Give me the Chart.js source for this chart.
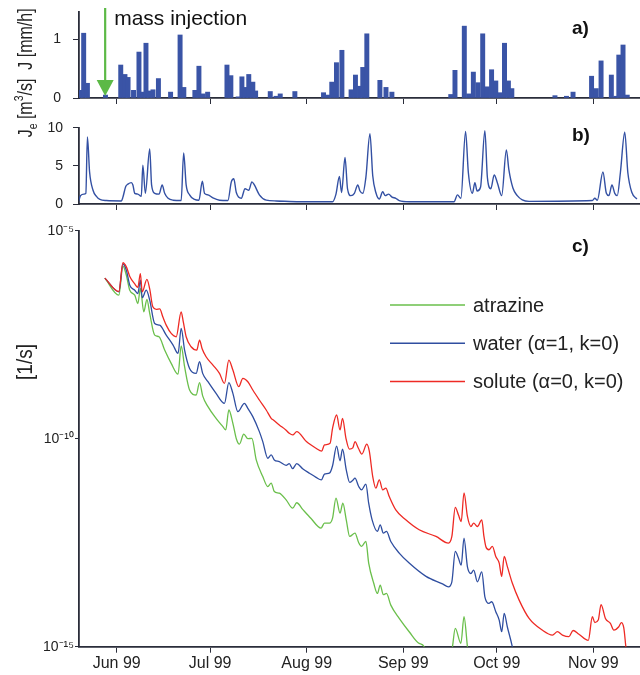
<!DOCTYPE html>
<html lang="en">
<head>
  <meta charset="UTF-8" />
  <title>Rainfall, discharge and travel time distributions 1999</title>
  <script src="https://cdn.jsdelivr.net/npm/chart.js"></script>
  <style>
    body { margin: 0; background: #fff; font-family: 'Liberation Sans', Arial, sans-serif; color: #222; }
    #wrap { position: relative; width: 640px; height: 675px; overflow: hidden; }
    canvas { position: absolute; left: 0; }
    .ytitle {
      position: absolute;
      white-space: nowrap;
      font-size: 16px;
      line-height: 1;
      transform: translate(-50%, -50%) rotate(-90deg) scale(1, 1.3);
    }
    .ytitle.big { font-size: 19px; transform: translate(-50%, -50%) rotate(-90deg) scale(1, 1.15); }
    .ytitle sub, .ytitle sup { font-size: 0.65em; line-height: 0; }
  </style>
</head>
<body>
<div id="wrap">
  <canvas id="rainChart" width="640" height="112" style="top:0"></canvas>
  <canvas id="flowChart" width="640" height="103" style="top:112px"></canvas>
  <canvas id="ttdChart" width="640" height="460" style="top:215px"></canvas>

  <div class="ytitle" style="left:25px; top:39px;">J [mm/h]</div>
  <div class="ytitle" style="left:25px; top:108px;">J<sub>e</sub> [m<sup>3</sup>/s]</div>
  <div class="ytitle big" style="left:25px; top:362px;">[1/s]</div>
</div>

<script>
  // ── data (day 0 = 1 June 1999) ─────────────────────────────
  const monthStartDay = [0, 30, 61, 92, 122, 153];
  const monthLabel = ['Jun 99', 'Jul 99', 'Aug 99', 'Sep 99', 'Oct 99', 'Nov 99'];
  const injectionDay = -3.7;

  // a) rainfall intensity (bar centres in days)
  const rainDay = [-11.75, -10.6, -9.4, -3.6,
    1.3, 2.65, 3.65, 5.4, 7.15, 8.3, 9.4, 10.45, 11.65, 13.4,
    17.3, 20.35, 21.55, 25.1, 26.4, 27.75, 29.2,
    35.4, 36.65, 39, 40.2, 41.3, 42.4, 43.7, 44.6,
    49.3, 51.15, 52.5, 57.2,
    66.4, 67.85, 69.05, 70.55, 72.3,
    75.25, 76.65, 78, 79, 80.3, 84.5, 86.45, 88.35,
    107.25, 108.6, 111.6, 113, 114.5, 116, 117.5, 119, 120.35, 121.7, 122.9, 124.5, 125.75, 126.85,
    140.7, 144.4, 146.5,
    152.45, 153.95, 155.5, 158.8, 160.25, 161.2, 162.55, 163.9];
  const rainMm = [0.13, 1.10, 0.25, 0.05,
    0.56, 0.40, 0.35, 0.13, 0.78, 0.10, 0.93, 0.12, 0.14, 0.33,
    0.10, 1.07, 0.18, 0.13, 0.54, 0.07, 0.10,
    0.56, 0.38, 0.02, 0.36, 0.18, 0.40, 0.27, 0.12,
    0.11, 0.03, 0.07, 0.11,
    0.09, 0.05, 0.27, 0.60, 0.81,
    0.14, 0.39, 0.20, 0.52, 1.09, 0.30, 0.18, 0.10,
    0.06, 0.47, 1.22, 0.07, 0.44, 0.26, 1.09, 0.19, 0.48, 0.29, 0.09, 0.93, 0.29, 0.16,
    0.04, 0.03, 0.10,
    0.37, 0.16, 0.63, 0.39, 0.03, 0.73, 0.90, 0.05];

  // b) discharge
  const flowDay = [-12.2, -11.6, -10.5, -9.9, -9.4, -8.7, -7.6, -6.5, -5.4, -3.3, 1.5, 2.0, 2.9, 3.6, 4.7, 5.2, 5.8,
    6.8, 7.9, 8.4, 9.2, 10.6, 11.2, 12.2, 13.6, 14.6, 15.4, 16.5, 18.1, 20.7, 21.5, 22.3, 23.4, 25, 26.4,
    27.5, 28.2, 29.3, 30.9, 33, 35.7, 36.8, 37.6, 38.4, 40, 41.2, 42.4, 43.4, 44.2, 45.8, 48, 51.2, 58.7,
    69.3, 70.4, 71.5, 72.2, 73.3, 74.1, 75.2, 76.3, 77.4, 78.1, 79, 80, 81.3, 82.2, 83.2, 84.3, 85.4, 86.2,
    87.3, 88.4, 89.6, 90.7, 93.9, 108.3, 109.4, 110.5, 112, 112.9, 114.2, 115, 115.7, 116.8, 118.2, 119,
    120.1, 121.2, 122.2, 123.6, 125.1, 125.9, 127.2, 128.6, 130.2, 132.4, 152.7, 153.5, 154.3, 156.1,
    157.2, 158, 159, 159.9, 160.7, 161.7, 163.1, 164.1, 165.4, 167];
  const flowM3s = [0.4, 1.1, 1.3, 1.4, 8.8, 4.2, 1.8, 1.0, 0.6, 0.45, 0.4, 0.9, 2.3, 2.6, 2.8, 2.5, 1.4,
    1.3, 1.0, 5.1, 1.4, 7.2, 2.5, 1.4, 1.3, 2.5, 1.4, 0.75, 0.5, 0.45, 6.7, 2.5, 1.2, 0.6, 0.5,
    3.0, 1.4, 1.2, 0.8, 0.5, 0.45, 2.9, 3.3, 1.5, 0.75, 2.0, 1.8, 2.9, 2.5, 1.2, 0.5, 0.4, 0.3,
    0.3, 1.3, 3.6, 1.5, 6.1, 2.0, 1.1, 1.4, 2.5, 1.7, 1.4, 3.5, 9.2, 3.7, 1.5, 0.65, 1.6, 1.1,
    1.3, 0.9, 0.75, 0.45, 0.3, 0.3, 1.2, 0.75, 9.5, 4.1, 1.4, 2.8, 1.7, 2.2, 9.6, 3.5,
    2.0, 3.8, 2.8, 1.1, 7.1, 4.5, 2.1, 1.1, 0.55, 0.35, 0.45, 0.75, 0.5, 4.2,
    1.4, 1.1, 2.5, 1.4, 1.1, 4.1, 9.4, 4.1, 1.5, 0.65];

  // c) travel time distributions, log10 of value in 1/s
  const soluteDay = [-3.8, 0.7, 2.0, 3.1, 4.2, 5.8, 6.8, 7.6, 8.2, 9.7, 10.6, 11.6, 12.7, 13.8, 14.8, 15.9, 17.5,
    19.1, 20.7, 21.4, 22.3, 23.9, 25.7, 26.6, 27.4, 28.7, 30.9, 33, 34.6, 36, 37.3, 39.2, 40.5, 42.1, 43.7,
    45.8, 48, 49.6, 50.3, 52.2, 54.3, 55.4, 56.5, 57.8, 60.9, 64, 65.8, 66.7, 68.5, 69.3, 70.6, 71.7, 72.5,
    73.6, 74.7, 75.8, 76.5, 77.6, 78.7, 80.3, 81.1, 82.2, 83.2, 84.3, 85.4, 86.4, 87.5, 89.6, 92.8, 97.1,
    102.5, 106.5, 107.6, 108.7, 109.7, 110.6, 111.5, 112.6, 113.7, 114.6, 115.8, 117.2, 117.9, 118.5, 119.5,
    120.6, 121.7, 122.8, 123.6, 124.4, 125.4, 127, 129.2, 132.4, 136.6, 139.9, 141.5, 143.1, 145.2, 146.5,
    148.4, 151.4, 152.7, 153.5, 154.6, 155.5, 156.9, 158.5, 159.6, 161.2, 162, 162.8, 163.4, 164];
  const soluteExp = [-6.14, -6.46, -5.77, -5.87, -6.1, -6.28, -6.36, -6.03, -6.47, -6.17, -6.4, -6.83, -6.89, -6.88, -7.07, -7.27, -7.47,
    -7.55, -6.95, -7.2, -7.55, -7.79, -7.87, -7.63, -7.83, -8.03, -8.23, -8.43, -8.67, -8.11, -8.35, -8.75, -8.55, -8.63, -8.83,
    -9.07, -9.31, -9.51, -9.55, -9.67, -9.79, -9.87, -9.91, -9.83, -10.07, -10.23, -10.3, -10.15, -10.11, -9.75, -9.43, -9.79, -9.51,
    -9.99, -10.25, -10.22, -10.07, -10.23, -10.37, -10.13, -10.3, -10.91, -11.19, -10.99, -11.23, -11.19, -11.39, -11.71, -11.95, -12.19,
    -12.35, -12.51, -12.35, -11.65, -11.83, -11.99, -11.3, -11.87, -12.11, -12.03, -12.11, -11.95, -12.35, -12.59, -12.67,
    -12.59, -12.83, -12.99, -13.31, -12.83, -13.07, -13.47, -13.88, -14.32, -14.6, -14.72, -14.64, -14.72, -14.76, -14.61,
    -14.7, -14.85, -14.28, -14.42, -14.36, -13.99, -14.32, -14.44, -14.6, -14.52, -14.42, -14.55, -14.96, -15.4];

  const waterDay = [-3.8, 0.7, 2.0, 3.1, 4.2, 5.8, 6.8, 7.6, 8.2, 9.5, 10.6, 12.2, 13.8, 15.9, 18.1, 19.7, 20.7,
    21.8, 23.4, 25.5, 26.6, 27.6, 29.3, 31.9, 34.6, 36, 37.3, 38.9, 41, 42.1, 43.7, 45.8, 46.9, 48.5, 49.6,
    50.6, 52.2, 54.4, 55.4, 56.5, 57.8, 59.7, 61.9, 64, 65.7, 66.7, 68.4, 69.3, 70.6, 71.7, 72.5, 73.7, 74.8,
    75.8, 76.5, 77.7, 78.6, 80, 80.9, 82, 83.7, 84.6, 85.6, 86.6, 88, 90.7, 93.9, 99.3, 104.6, 106.5, 107.6,
    108.7, 109.7, 110.6, 111.5, 112.6, 113.7, 114.6, 115.8, 117.2, 118.2, 119.5, 120.4, 121.7, 122.8, 123.6,
    124.4, 125.4, 127, 128];
  const waterExp = [-6.14, -6.47, -5.8, -5.95, -6.31, -6.43, -6.51, -6.19, -6.61, -6.43, -6.67, -7.23, -7.27, -7.51, -7.75, -7.95, -7.35,
    -7.87, -8.31, -8.43, -8.15, -8.43, -8.63, -8.91, -9.15, -8.65, -8.91, -9.35, -9.15, -9.27, -9.47, -9.83, -10.07, -10.47, -10.39,
    -10.51, -10.55, -10.64, -10.6, -10.72, -10.6, -10.72, -10.83, -10.93, -10.99, -10.85, -10.82, -10.65, -10.18, -10.53, -10.25, -10.75, -11.05,
    -11.0, -10.95, -11.15, -11.23, -11.09, -11.55, -11.95, -12.23, -12.07, -12.27, -12.23, -12.47, -12.75, -12.99, -13.31, -13.49, -13.56, -13.44,
    -12.71, -12.87, -13.04, -12.39, -13.08, -13.24, -13.16, -13.44, -13.2, -13.8, -13.96, -13.92, -14.16, -14.36, -14.64,
    -14.2, -14.52, -15.0, -15.4];

  const atrazineDay = [-3.8, 0.7, 2.0, 3.1, 4.2, 5.8, 6.8, 7.6, 8.7, 9.7, 10.6, 12.2, 13.6, 15.4, 17.5, 19.7, 20.7,
    21.8, 23.4, 25.5, 26.6, 27.6, 29.3, 31.9, 34.1, 35, 36, 37.3, 38.4, 39.4, 40.8, 42.1, 43.4, 44.8, 46.9,
    48.5, 49.6, 50.6, 52.2, 54.4, 56.5, 57.8, 59.7, 62.4, 65.6, 66.7, 68.3, 69.3, 70.4, 71.7, 72.6, 73.7,
    74.8, 76.5, 77.7, 78.6, 80, 80.9, 82.5, 83.7, 84.6, 85.6, 86.6, 88, 90.7, 93.9, 97.1, 98.7, 99.5,
    107, 107.8, 108.7, 110.5, 111.5, 112.6, 113.2];
  const atrazineExp = [-6.14, -6.55, -5.85, -6.07, -6.43, -6.55, -6.75, -6.39, -6.95, -6.65, -6.99, -7.51, -7.55, -7.87, -8.19, -8.45, -7.77,
    -8.27, -8.83, -8.95, -8.65, -8.97, -9.23, -9.51, -9.71, -9.79, -9.31, -9.63, -10.0, -10.13, -9.89, -10.0, -9.99, -10.51, -10.91,
    -11.15, -11.07, -11.27, -11.31, -11.47, -11.67, -11.54, -11.7, -11.92, -12.15, -12.03, -12.03, -11.91, -11.43, -11.79, -11.55, -11.95,
    -12.35, -12.27, -12.5, -12.59, -12.47, -12.99, -13.47, -13.72, -13.52, -13.75, -13.72, -14.0, -14.32, -14.64, -14.92, -15.0, -15.4,
    -15.4, -15.0, -14.56, -14.92, -14.28, -15.0, -15.4];

  // ── shared look ────────────────────────────────────────────
  Chart.defaults.font.family = "'Liberation Sans', Arial, sans-serif";
  Chart.defaults.color = '#222';
  Chart.defaults.animation = false;

  const X_MIN = -12.1, X_MAX = 168;
  const AXIS_COLOR = '#2a2d3a';
  const Y_AXIS_WIDTH = 79;

  function xAxis(height, showLabels) {
    return {
      type: 'linear', min: X_MIN, max: X_MAX, offset: false,
      afterBuildTicks: s => { s.ticks = monthStartDay.map(v => ({ value: v })); },
      afterFit: s => { s.height = height; },
      grid: { drawOnChartArea: false, drawTicks: true, tickLength: 6, color: AXIS_COLOR, offset: false },
      border: { color: AXIS_COLOR, width: 1.8 },
      ticks: {
        display: showLabels, autoSkip: false, maxRotation: 0, padding: 1,
        font: { size: 16 },
        callback: v => monthLabel[monthStartDay.indexOf(v)]
      }
    };
  }

  function yAxis(extra, tickValues, tickLength, padding, labelFn) {
    return Object.assign({
      afterBuildTicks: s => { s.ticks = tickValues.map(v => ({ value: v })); },
      // fixed width; drop the label overhang so the plot box stays where we put it
      afterFit: s => { s.width = Y_AXIS_WIDTH; s.paddingTop = 0; s.paddingBottom = 0; },
      grid: { drawOnChartArea: false, drawTicks: true, tickLength: tickLength, color: AXIS_COLOR },
      border: { color: AXIS_COLOR, width: 1.8 },
      ticks: { autoSkip: false, padding: padding, font: { size: 14 }, callback: labelFn || (v => v) }
    }, extra);
  }

  function panelTag(text, x, y) {
    return {
      id: 'tag',
      afterDraw(chart) {
        const ctx = chart.ctx;
        ctx.save();
        ctx.font = "bold 19px 'Liberation Sans', Arial, sans-serif";
        ctx.fillStyle = '#111';
        ctx.fillText(text, x, y);
        ctx.restore();
      }
    };
  }

  // green arrow marking the mass injection
  const arrowPlugin = {
    id: 'injectionArrow',
    afterDraw(chart) {
      const x = chart.scales.x.getPixelForValue(injectionDay);
      const ctx = chart.ctx;
      ctx.save();
      ctx.strokeStyle = ctx.fillStyle = '#5cb946';
      ctx.lineWidth = 2.2;
      ctx.beginPath(); ctx.moveTo(x, 8); ctx.lineTo(x, 84); ctx.stroke();
      ctx.beginPath(); ctx.moveTo(x - 8.5, 80); ctx.lineTo(x + 8.5, 80); ctx.lineTo(x, 96); ctx.closePath(); ctx.fill();
      ctx.font = "21px 'Liberation Sans', Arial, sans-serif";
      ctx.fillStyle = '#111';
      ctx.fillText('mass injection', x + 9, 25);
      ctx.restore();
    }
  };

  // legend drawn inside panel c
  const lineLegend = {
    id: 'lineLegend',
    afterDraw(chart) {
      const ctx = chart.ctx;
      const items = chart.data.datasets.slice().reverse();
      ctx.save();
      ctx.font = "20px 'Liberation Sans', Arial, sans-serif";
      ctx.textBaseline = 'middle';
      items.forEach((ds, i) => {
        const y = 90 + i * 38.3;
        ctx.strokeStyle = ds.borderColor;
        ctx.lineWidth = 1.5;
        ctx.beginPath(); ctx.moveTo(390, y); ctx.lineTo(465, y); ctx.stroke();
        ctx.fillStyle = '#222';
        ctx.fillText(ds.label, 473, y + 1);
      });
      ctx.restore();
    }
  };

  const supDigits = { '-': '\u207B', '0': '\u2070', '1': '\u00B9', '2': '\u00B2', '3': '\u00B3', '4': '\u2074',
    '5': '\u2075', '6': '\u2076', '7': '\u2077', '8': '\u2078', '9': '\u2079' };
  const powLabel = v => '10' + String(Math.round(Math.log10(v))).split('').map(c => supDigits[c]).join('');

  const points = (xs, ys) => xs.map((x, i) => ({ x: x, y: ys[i] }));
  const logPoints = (xs, es) => xs.map((x, i) => ({ x: x, y: Math.pow(10, es[i]) }));

  // ── a) rainfall ────────────────────────────────────────────
  new Chart(document.getElementById('rainChart'), {
    type: 'bar',
    data: {
      datasets: [{
        data: points(rainDay, rainMm),
        backgroundColor: '#3a54a6',
        borderWidth: 0,
        barThickness: 4.3
      }]
    },
    options: {
      responsive: false,
      layout: { padding: { top: 12, right: 0, left: 0, bottom: 0 } },
      plugins: { legend: { display: false }, tooltip: { enabled: false } },
      scales: {
        x: xAxis(14, false),
        y: yAxis({ min: 0, max: 1.46 }, [0, 1], 6, 12)
      }
    },
    plugins: [arrowPlugin, panelTag('a)', 572, 34)]
  });

  // ── b) discharge ───────────────────────────────────────────
  new Chart(document.getElementById('flowChart'), {
    type: 'line',
    data: {
      datasets: [{
        data: points(flowDay, flowM3s),
        borderColor: '#3350a3',
        borderWidth: 1.4,
        pointRadius: 0,
        cubicInterpolationMode: 'monotone'
      }]
    },
    options: {
      responsive: false,
      layout: { padding: { top: 15.7, right: 0, left: 0, bottom: 0 } },
      plugins: { legend: { display: false }, tooltip: { enabled: false } },
      scales: {
        x: xAxis(11, false),
        y: yAxis({ min: 0, max: 10 }, [0, 5, 10], 6, 10)
      }
    },
    plugins: [panelTag('b)', 572, 29)]
  });

  // ── c) travel time distributions ───────────────────────────
  new Chart(document.getElementById('ttdChart'), {
    type: 'line',
    data: {
      datasets: [
        { label: 'solute (\u03B1=0, k=0)', data: logPoints(soluteDay, soluteExp), borderColor: '#ee2a24' },
        { label: 'water (\u03B1=1, k=0)', data: logPoints(waterDay, waterExp), borderColor: '#2f4ea0' },
        { label: 'atrazine', data: logPoints(atrazineDay, atrazineExp), borderColor: '#6abf4b' }
      ].map(ds => Object.assign(ds, { borderWidth: 1.3, pointRadius: 0, cubicInterpolationMode: 'monotone' }))
    },
    options: {
      responsive: false,
      layout: { padding: { top: 15.7, right: 0, left: 0, bottom: 0 } },
      plugins: { legend: { display: false }, tooltip: { enabled: false } },
      scales: {
        x: xAxis(28.3, true),
        y: yAxis({ type: 'logarithmic', min: 1e-15, max: 1e-5 }, [1e-15, 1e-10, 1e-5], 4, 1, powLabel)
      }
    },
    plugins: [lineLegend, panelTag('c)', 572, 37)]
  });
</script>
</body>
</html>
